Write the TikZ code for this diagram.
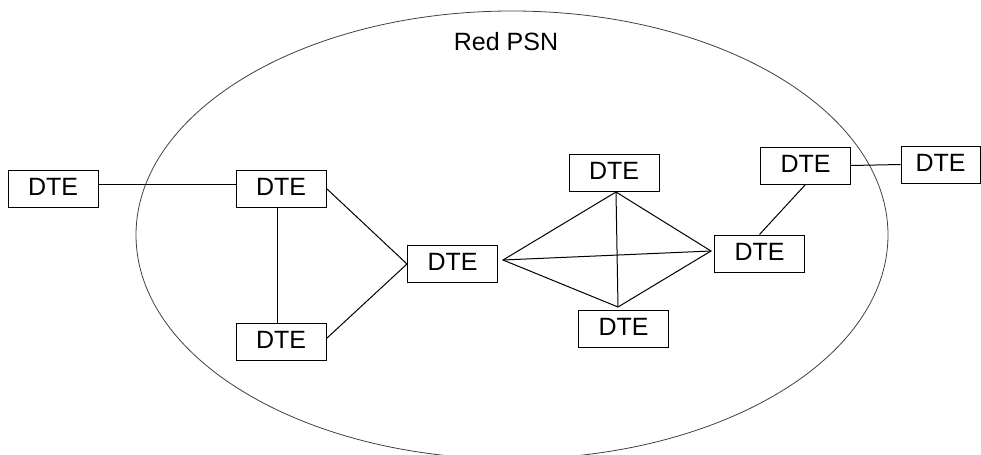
\documentclass[tikz,border=0pt]{standalone}
\usepackage{fontspec}
\setmainfont{Liberation Sans}
\usetikzlibrary{calc}
\begin{document}
\begin{tikzpicture}[x=0.5pt,y=-0.5pt,
  dte/.style={draw=black, line width=0.5pt, minimum width=45pt, minimum height=18.5pt,
    inner sep=0pt, text height=9pt, text depth=2.5pt,
    font=\fontsize{12.5pt}{14pt}\selectfont},
  link/.style={line width=0.5pt, black},
  cloud/.style={line width=0.4pt, black!75},
]
\clip (0,0) rectangle (981,455);
\useasboundingbox (0,0) rectangle (981,455);

% network boundary
\draw[cloud] (512,235) ellipse [x radius=376, y radius=224];
\node[anchor=base, font=\fontsize{12.5pt}{14pt}\selectfont] (title) at (506,50.7) {Red PSN};

% terminals
\node[dte] (a) at (53,188.5) {DTE};
\node[dte] (b) at (281,188.5) {DTE};
\node[dte] (c) at (281,341.5) {DTE};
\node[dte] (d) at (452.5,264) {DTE};
\node[dte] (e) at (614,173) {DTE};
\node[dte] (f) at (623.5,329) {DTE};
\node[dte] (g) at (759.5,253.5) {DTE};
\node[dte] (h) at (805.5,165.5) {DTE};
\node[dte, minimum width=39.5pt] (i) at (940.5,164.5) {DTE};

% links
\draw[link] ([yshift=2pt]a.east) -- ([yshift=2pt]b.west);
\draw[link] ([xshift=-2pt]b.south) -- ([xshift=-2pt]c.north);
\draw[link] (b.east) -- (d.west);
\draw[link] ([yshift=1.5pt]c.east) -- (d.west);

% full mesh between the four middle terminals
\coordinate (dp) at ($(d.east)+(5,-4)$);
\coordinate (ep) at ($(e.south)+(2,0)$);
\coordinate (fp) at ($(f.north)+(-5.5,-3)$);
\coordinate (gp) at ($(g.west)+(-3,-2.5)$);
\draw[link] (dp) -- (ep) -- (gp) -- (fp) -- cycle;
\draw[link] (dp) -- (gp);
\draw[link] (ep) -- (fp);

\draw[link] (g.north) -- (h.south);
\draw[link] (h.east) -- (i.west);
\end{tikzpicture}
\end{document}
